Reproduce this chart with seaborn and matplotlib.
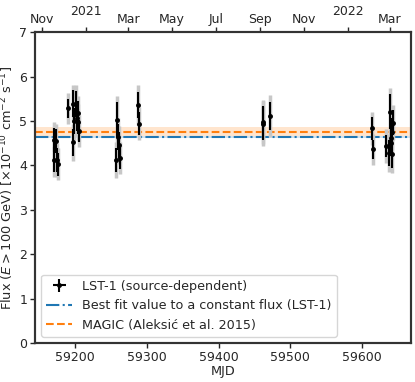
import numpy as np
import seaborn as sns
import matplotlib
matplotlib.use("Agg")
import matplotlib.pyplot as plt

# Datos (MJD, flujo, error estadistico, error total)
mjd = [59170.5, 59170.6, 59173.0, 59174.3, 59176.1,
       59190.5, 59196.5, 59197.4, 59198.8, 59201.2, 59202.2, 59203.5, 59204.4, 59205.8,
       59257.5, 59258.5, 59259.3, 59260.7, 59262.7, 59287.9, 59289.3,
       59461.6, 59462.2, 59471.8,
       59614.4, 59615.0, 59633.0, 59637.9, 59638.8, 59639.8, 59640.5, 59641.4, 59641.6, 59643.0]
flux = [4.57, 4.13, 4.55, 4.12, 4.02,
        5.28, 5.39, 4.52, 5.00, 5.38, 5.06, 4.98, 5.17, 4.78,
        4.12, 5.02, 4.64, 4.46, 4.16, 5.36, 4.94,
        4.97, 4.94, 5.11,
        4.83, 4.36, 4.43, 4.28, 5.21, 4.61, 4.50, 4.76, 4.25, 4.96]
err_stat = [0.28, 0.28, 0.27, 0.27, 0.25,
            0.22, 0.30, 0.30, 0.30, 0.30, 0.28, 0.28, 0.28, 0.25,
            0.28, 0.40, 0.30, 0.30, 0.25, 0.30, 0.25,
            0.37, 0.37, 0.31,
            0.25, 0.22, 0.25, 0.30, 0.40, 0.30, 0.30, 0.30, 0.30, 0.28]
err_tot = [0.40, 0.40, 0.38, 0.38, 0.36,
           0.35, 0.42, 0.42, 0.42, 0.42, 0.40, 0.40, 0.40, 0.36,
           0.40, 0.55, 0.42, 0.42, 0.36, 0.45, 0.38,
           0.50, 0.50, 0.47,
           0.38, 0.35, 0.38, 0.42, 0.54, 0.42, 0.42, 0.42, 0.42, 0.40]

# Ajuste constante LST-1 y referencia MAGIC
fit_val, fit_err = 4.64, 0.03
magic_val, magic_err = 4.76, 0.10

# Eje superior (fechas)
fechas_mjd = [59154, 59274, 59335, 59396, 59458, 59519, 59639]
fechas_lab = ["Nov", "Mar", "May", "Jul", "Sep", "Nov", "Mar"]
anios_mjd = [59215, 59580]
anios_lab = ["2021", "2022"]

sns.set_theme(style="ticks")
plt.rcParams["font.family"] = ["DejaVu Sans"]
plt.rcParams["font.size"] = 9
colores = sns.color_palette("tab10")

fig, ax = plt.subplots(figsize=(4.15, 3.82), dpi=100)
fig.subplots_adjust(left=0.084, right=0.99, bottom=0.102, top=0.916)

xmin, xmax = 59144, 59668

ax.axhspan(fit_val - fit_err, fit_val + fit_err, color=colores[0], alpha=0.2, lw=0)
ax.axhline(fit_val, color=colores[0], ls="-.", lw=1.5,
           label="Best fit value to a constant flux (LST-1)")
ax.axhspan(magic_val - magic_err, magic_val + magic_err, color=colores[1], alpha=0.2, lw=0)
ax.axhline(magic_val, color=colores[1], ls="--", lw=1.5,
           label="MAGIC (Aleksić et al. 2015)")

ax.errorbar(mjd, flux, yerr=err_tot, fmt="none", ecolor="0.78", elinewidth=2.5, zorder=3)
ax.errorbar(mjd, flux, yerr=err_stat, xerr=0.01, fmt="o", ms=2.5, color="black",
            ecolor="black", elinewidth=1.5, zorder=4, label="LST-1 (source-dependent)")

ax.set_xlim(xmin, xmax)
ax.set_ylim(0, 7)
ax.set_xticks([59200, 59300, 59400, 59500, 59600])
ax.set_yticks(range(8))
ax.set_xlabel("MJD", fontsize=9.3, labelpad=1)
ax.set_ylabel(r"Flux ($E>100$ GeV) [$\times10^{-10}$ cm$^{-2}$ s$^{-1}$]", fontsize=9.3, labelpad=2)
ax.tick_params(labelsize=9, length=3.5, width=1.0, pad=2)
for s in ax.spines.values():
    s.set_linewidth(1.5)
    s.set_color("0.2")

handles, labels = ax.get_legend_handles_labels()
orden = [2, 0, 1]
ax.legend([handles[i] for i in orden], [labels[i] for i in orden],
          loc="lower left", fontsize=9.2, frameon=True, borderaxespad=0.5)

ax2 = ax.twiny()
ax2.set_xlim(xmin, xmax)
ax2.set_xticks(fechas_mjd, labels=fechas_lab)
ax2.set_xticks(anios_mjd, labels=anios_lab, minor=True)
ax2.tick_params(which="major", labelsize=9, length=3.5, width=1.0, pad=1)
ax2.tick_params(which="minor", labelsize=9, length=3.5, width=1.0, pad=7)
for s in ax2.spines.values():
    s.set_linewidth(1.5)
    s.set_color("0.2")

fig.savefig("out.png", dpi=100)
